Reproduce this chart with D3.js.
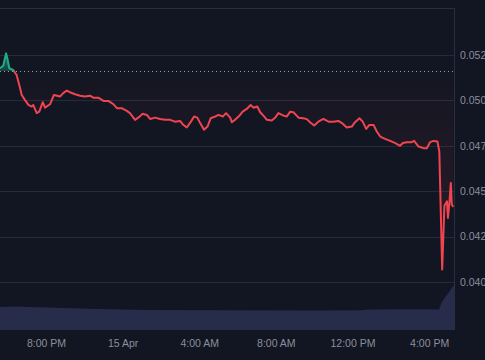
<!DOCTYPE html>
<html>
<head>
<meta charset="utf-8">
<script src="https://cdn.jsdelivr.net/npm/d3@7"></script>
<style>
  html, body { margin: 0; padding: 0; background: #121522; overflow: hidden; }
  svg { display: block; }
</style>
</head>
<body>
<div id="mainCanvas"></div>
<script>
// price series, minutes after 14 Apr 17:36 -> price
var startTime = new Date(2024, 3, 14, 17, 36) ;
var priceMinutes = [0, 10, 19, 23, 29, 42, 52, 63, 68, 78, 89, 99, 104, 115, 123, 134, 141, 157, 169, 178,
		    188, 198, 209, 219, 235, 251, 266, 282, 292, 308, 324, 339, 355, 366, 381, 397, 407, 423, 433, 447,
		    460, 470, 486, 501, 517, 533, 548, 564, 572, 585, 598, 608, 618, 627, 639, 650, 660, 674, 684, 698,
		    708, 721, 726, 736, 750, 760, 773, 785, 794, 806, 815, 825, 836, 851, 862, 872, 888, 898, 909, 919,
		    935, 950, 961, 971, 984, 997, 1013, 1029, 1044, 1060, 1071, 1086, 1102, 1112, 1126, 1136, 1147, 1157, 1170, 1180,
		    1191, 1206, 1222, 1238, 1253, 1262, 1274, 1290, 1297, 1311, 1326, 1337, 1347, 1358, 1370, 1376, 1385, 1392, 1400, 1403,
		    1408, 1412, 1415, 1420] ;
var priceValues = [0.05177, 0.05191, 0.05259, 0.05232, 0.05177, 0.05166, 0.05140, 0.05067, 0.05030, 0.05003, 0.04975, 0.04966, 0.04975, 0.04930, 0.04938, 0.04990, 0.04960, 0.04979, 0.05030, 0.05026,
		   0.05021, 0.05040, 0.05054, 0.05045, 0.05034, 0.05026, 0.05021, 0.05026, 0.05015, 0.05015, 0.04997, 0.04997, 0.04979, 0.04957, 0.04957, 0.04942, 0.04930, 0.04893, 0.04905, 0.04926,
		   0.04920, 0.04898, 0.04905, 0.04898, 0.04893, 0.04893, 0.04883, 0.04887, 0.04869, 0.04851, 0.04883, 0.04911, 0.04905, 0.04875, 0.04838, 0.04856, 0.04902, 0.04911, 0.04920, 0.04911,
		   0.04930, 0.04905, 0.04880, 0.04893, 0.04916, 0.04938, 0.04953, 0.04975, 0.04960, 0.04966, 0.04935, 0.04916, 0.04893, 0.04889, 0.04905, 0.04930, 0.04916, 0.04911, 0.04938, 0.04935,
		   0.04905, 0.04902, 0.04897, 0.04880, 0.04862, 0.04883, 0.04898, 0.04883, 0.04883, 0.04887, 0.04875, 0.04851, 0.04856, 0.04880, 0.04902, 0.04883, 0.04843, 0.04865, 0.04865, 0.04829,
		   0.04801, 0.04788, 0.04777, 0.04765, 0.04750, 0.04765, 0.04770, 0.04770, 0.04777, 0.04746, 0.04737, 0.04737, 0.04770, 0.04777, 0.04774, 0.04719, 0.04069, 0.04420, 0.04444, 0.04353,
		   0.04444, 0.04545, 0.04426, 0.04413] ;

// volume histogram (arbitrary units)
var volumeMinutes = [0, 50, 90, 150, 250, 310, 450, 700, 1000, 1130, 1150, 1300, 1375, 1384, 1400, 1422] ;
var volumeValues = [46, 47, 46, 45, 43, 42, 40, 39.4, 39, 39.4, 41, 41.4, 41, 56.6, 70, 90] ;

var baseValue = 0.05162 ;
var endMinute = 1422 ;

var priceTicks = [0.0400, 0.0425, 0.0450, 0.0475, 0.0500, 0.0525] ;
var priceTickLabels = ["0.0400", "0.0425", "0.0450", "0.0475", "0.0500", "0.0525"] ;
var timeTicks = [new Date(2024, 3, 14, 20), new Date(2024, 3, 15, 0), new Date(2024, 3, 15, 4),
		 new Date(2024, 3, 15, 8), new Date(2024, 3, 15, 12), new Date(2024, 3, 15, 16)] ;
var timeTickLabels = ["8:00 PM", "15 Apr", "4:00 AM", "8:00 AM", "12:00 PM", "4:00 PM"] ;

function add_minutes(m)
{
    return new Date(startTime.getTime() + m*60000) ;
}

function mainRenderer()
{
    var width = 485, height = 360 ;
    var plotLeft = 0, plotRight = 454, plotTop = 8, plotBottom = 330 ;

    var svg = d3.select("#mainCanvas").append("svg")
	.attr("width", width)
	.attr("height", height) ;

    var x = d3.scaleTime()
	.domain([startTime, add_minutes(endMinute)])
	.range([plotLeft, plotRight]) ;

    var y = d3.scaleLinear()
	.domain([0.0400, 0.0525])
	.range([282, 55]) ;

    var yVol = d3.scaleLinear()
	.domain([0, 100])
	.range([plotBottom, 280]) ;

    var data = priceMinutes.map(function(m, i) { return {t: add_minutes(m), v: priceValues[i]} ; }) ;
    var vol = volumeMinutes.map(function(m, i) { return {t: add_minutes(m), v: volumeValues[i]} ; }) ;

    var defs = svg.append("defs") ;

    var baseY = y(baseValue) ;

    defs.append("clipPath").attr("id", "clipAbove")
	.append("rect")
	.attr("x", plotLeft).attr("y", plotTop)
	.attr("width", plotRight-plotLeft).attr("height", baseY-plotTop) ;

    defs.append("clipPath").attr("id", "clipBelow")
	.append("rect")
	.attr("x", plotLeft).attr("y", baseY)
	.attr("width", plotRight-plotLeft).attr("height", plotBottom-baseY) ;

    var gGreen = defs.append("linearGradient").attr("id", "greenFill")
	.attr("gradientUnits", "userSpaceOnUse")
	.attr("x1", 0).attr("y1", 50).attr("x2", 0).attr("y2", baseY) ;
    gGreen.append("stop").attr("offset", 0).attr("stop-color", "#22ab84").attr("stop-opacity", 0.75) ;
    gGreen.append("stop").attr("offset", 1).attr("stop-color", "#22ab84").attr("stop-opacity", 0.3) ;

    var gRed = defs.append("linearGradient").attr("id", "redFill")
	.attr("gradientUnits", "userSpaceOnUse")
	.attr("x1", 0).attr("y1", baseY).attr("x2", 0).attr("y2", 280) ;
    gRed.append("stop").attr("offset", 0).attr("stop-color", "#ef5350").attr("stop-opacity", 0.01) ;
    gRed.append("stop").attr("offset", 1).attr("stop-color", "#ef5350").attr("stop-opacity", 0.12) ;

    // grid
    svg.append("g")
	.selectAll("line")
	.data(priceTicks)
	.enter().append("line")
	.attr("x1", plotLeft).attr("x2", plotRight)
	.attr("y1", function(d) { return Math.round(y(d))+0.5 ; })
	.attr("y2", function(d) { return Math.round(y(d))+0.5 ; })
	.attr("stroke", "#262a3a")
	.attr("stroke-width", 1) ;

    // borders
    svg.append("line")
	.attr("x1", plotLeft).attr("x2", plotRight+0.5)
	.attr("y1", plotTop+0.5).attr("y2", plotTop+0.5)
	.attr("stroke", "#2a2e3e") ;
    svg.append("line")
	.attr("x1", plotRight+0.5).attr("x2", plotRight+0.5)
	.attr("y1", plotTop).attr("y2", plotBottom)
	.attr("stroke", "#2a2e3e") ;

    // volume
    var volArea = d3.area()
	.x(function(d) { return x(d.t) ; })
	.y0(plotBottom)
	.y1(function(d) { return yVol(d.v) ; }) ;

    svg.append("path")
	.datum(vol)
	.attr("d", volArea)
	.attr("fill", "#272c4b") ;

    // baseline fills
    var fillArea = d3.area()
	.x(function(d) { return x(d.t) ; })
	.y0(baseY)
	.y1(function(d) { return y(d.v) ; }) ;

    svg.append("path")
	.datum(data)
	.attr("d", fillArea)
	.attr("clip-path", "url(#clipAbove)")
	.attr("fill", "url(#greenFill)") ;

    svg.append("path")
	.datum(data)
	.attr("d", fillArea)
	.attr("clip-path", "url(#clipBelow)")
	.attr("fill", "url(#redFill)") ;

    // dotted base line
    svg.append("line")
	.attr("x1", plotLeft).attr("x2", plotRight)
	.attr("y1", Math.round(baseY)+0.5).attr("y2", Math.round(baseY)+0.5)
	.attr("stroke", "#9a9ea8")
	.attr("stroke-width", 1)
	.attr("stroke-dasharray", "1,3") ;

    var line = d3.line()
	.x(function(d) { return x(d.t) ; })
	.y(function(d) { return y(d.v) ; }) ;

    svg.append("path")
	.datum(data)
	.attr("d", line)
	.attr("clip-path", "url(#clipAbove)")
	.attr("fill", "none")
	.attr("stroke", "#22ab84")
	.attr("stroke-width", 2)
	.attr("stroke-linejoin", "round") ;

    svg.append("path")
	.datum(data)
	.attr("d", line)
	.attr("clip-path", "url(#clipBelow)")
	.attr("fill", "none")
	.attr("stroke", "#ef4550")
	.attr("stroke-width", 2)
	.attr("stroke-linejoin", "round") ;

    // right price axis
    var yAxis = d3.axisRight(y)
	.tickValues(priceTicks)
	.tickSize(0)
	.tickPadding(6)
	.tickFormat(function(d, i) { return priceTickLabels[i] ; }) ;

    svg.append("g")
	.attr("transform", "translate(" + plotRight + ",0)")
	.call(yAxis)
	.call(function(g) { g.select(".domain").remove() ; })
	.selectAll("text")
	.attr("fill", "#8b8f9b")
	.attr("font-family", "Liberation Sans, Arial, sans-serif")
	.attr("font-size", "10.5px") ;

    // bottom time axis
    var xAxis = d3.axisBottom(x)
	.tickValues(timeTicks)
	.tickSize(0)
	.tickPadding(10)
	.tickFormat(function(d, i) { return timeTickLabels[i] ; }) ;

    svg.append("g")
	.attr("transform", "translate(0," + plotBottom + ")")
	.call(xAxis)
	.call(function(g) { g.select(".domain").remove() ; })
	.selectAll("text")
	.attr("fill", "#8b8f9b")
	.attr("font-family", "Liberation Sans, Arial, sans-serif")
	.attr("font-size", "10.5px") ;
}

mainRenderer() ;
</script>
</body>
</html>
